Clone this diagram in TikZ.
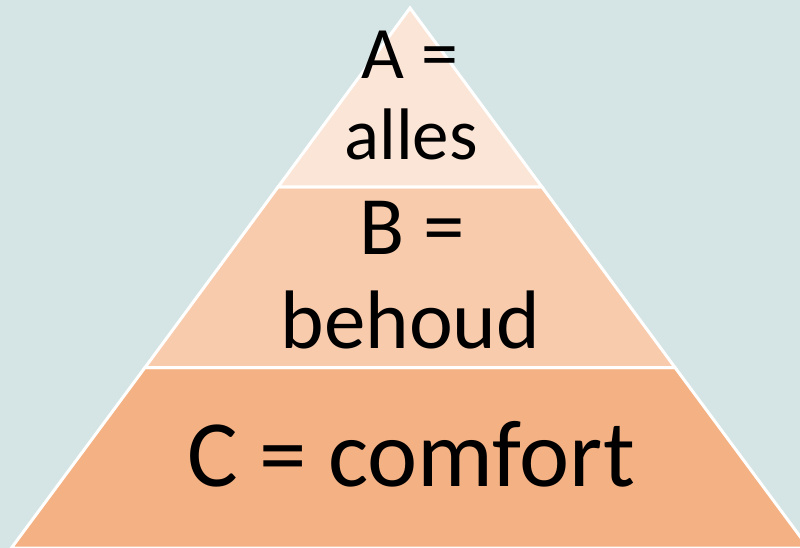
\documentclass[tikz,border=0pt]{standalone}
\usepackage{fontspec}
\setmainfont{Carlito}
\definecolor{bg}{HTML}{D5E4E4}
\definecolor{bandA}{HTML}{FBE5D6}
\definecolor{bandB}{HTML}{F8CBAD}
\definecolor{bandC}{HTML}{F4B183}
\tikzset{
  band/.style={draw=white, line width=3pt, line join=miter},
  lbl/.style={anchor=base, inner sep=0pt, text=black},
}
\begin{document}
\begin{tikzpicture}[x=1pt,y=-1pt]
\fill[bg] (0,0) rectangle (800,548);
\useasboundingbox (0,0) rectangle (800,548);
\begin{scope}
\clip (0,0) rectangle (800,548);
% bands: apex (410,8), slope 0.738 px/px
\filldraw[band, fill=bandC] (145,367.5) -- (675,367.5) -- (808.6,548) -- (11.4,548) -- cycle;
\filldraw[band, fill=bandB] (278,187) -- (542,187) -- (675,367.5) -- (145,367.5) -- cycle;
\filldraw[band, fill=bandA] (410,8) -- (542,187) -- (278,187) -- cycle;
\end{scope}
\node[lbl, font=\fontsize{74}{80}\selectfont] (a1) at (410,79) {A =};
\node[lbl, font=\fontsize{73}{80}\selectfont] (a2) at (411,160) {alles};
\node[lbl, font=\fontsize{83}{95}\selectfont] (b1) at (412,254) {B =};
\node[lbl, font=\fontsize{83}{95}\selectfont] (b2) at (410.5,348) {behoud};
\node[lbl, font=\fontsize{95}{110}\selectfont] (c1) at (411,486) {C = comfort};
\end{tikzpicture}
\end{document}
